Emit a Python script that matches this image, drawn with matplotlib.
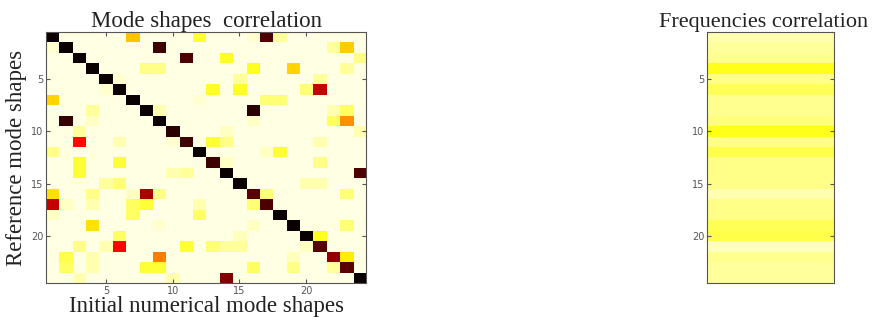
import numpy as np
import matplotlib.pyplot as plt

# MAC-like matrix: reference mode shapes (rows) vs initial numerical mode shapes (cols)
mode_corr = [
    [1.00,.03,.03,.03,.03,.03,.34,.03,.03,.03,.03,.20,.03,.03,.03,.05,.90,.10,.03,.03,.03,.03,.03,.03],
    [.05,1.00,.03,.03,.03,.03,.03,.03,.92,.03,.03,.03,.03,.03,.03,.03,.03,.03,.03,.03,.03,.10,.33,.03],
    [.03,.03,1.00,.03,.03,.03,.03,.03,.03,.03,.90,.03,.03,.22,.03,.03,.03,.03,.03,.03,.03,.03,.03,.12],
    [.03,.03,.03,1.00,.03,.03,.03,.12,.12,.03,.03,.03,.03,.03,.03,.22,.03,.03,.32,.03,.03,.03,.10,.03],
    [.03,.03,.03,.03,1.00,.05,.03,.03,.03,.03,.03,.03,.03,.03,.10,.03,.03,.03,.03,.03,.10,.03,.03,.03],
    [.03,.03,.03,.03,.05,1.00,.03,.03,.03,.03,.03,.03,.22,.03,.22,.03,.03,.03,.03,.14,.72,.03,.03,.03],
    [.32,.03,.03,.03,.03,.03,1.00,.03,.03,.03,.03,.05,.03,.03,.03,.03,.14,.14,.03,.03,.03,.03,.03,.03],
    [.03,.03,.03,.10,.03,.03,.03,1.00,.08,.03,.03,.03,.03,.03,.03,.95,.03,.03,.03,.03,.03,.08,.16,.03],
    [.03,.93,.03,.06,.03,.03,.03,.03,1.00,.03,.03,.03,.03,.03,.03,.06,.03,.03,.03,.03,.03,.16,.42,.03],
    [.03,.03,.10,.03,.03,.03,.03,.03,.03,.95,.03,.03,.03,.06,.03,.03,.03,.03,.03,.03,.03,.03,.03,.08],
    [.03,.03,.62,.03,.03,.08,.03,.03,.03,.05,.92,.03,.20,.12,.03,.03,.03,.03,.03,.03,.08,.03,.03,.03],
    [.12,.03,.03,.03,.03,.03,.03,.03,.03,.03,.03,1.00,.03,.03,.03,.03,.06,.20,.03,.03,.03,.03,.03,.03],
    [.03,.03,.20,.03,.03,.20,.03,.03,.03,.03,.03,.03,.92,.06,.03,.03,.03,.03,.03,.03,.12,.03,.03,.03],
    [.03,.03,.20,.03,.03,.03,.03,.03,.03,.08,.10,.03,.03,1.00,.03,.03,.03,.03,.03,.03,.03,.03,.03,.90],
    [.03,.03,.03,.03,.10,.14,.03,.03,.03,.03,.03,.03,.03,.03,1.00,.03,.03,.03,.03,.08,.08,.03,.03,.03],
    [.30,.03,.03,.12,.03,.03,.06,.76,.12,.03,.03,.03,.03,.03,.03,.88,.14,.03,.03,.03,.03,.03,.14,.03],
    [.72,.06,.03,.08,.03,.03,.16,.20,.03,.03,.03,.08,.03,.03,.03,.14,.90,.03,.03,.03,.03,.03,.03,.03],
    [.06,.03,.03,.03,.03,.03,.16,.03,.03,.03,.03,.16,.03,.03,.03,.03,.03,1.00,.03,.03,.03,.03,.03,.03],
    [.03,.03,.03,.30,.03,.03,.03,.03,.05,.03,.03,.03,.03,.03,.03,.06,.03,.03,1.00,.03,.03,.03,.14,.03],
    [.03,.03,.03,.03,.03,.16,.03,.03,.03,.03,.03,.03,.03,.03,.07,.03,.03,.03,.03,1.00,.22,.03,.03,.03],
    [.03,.03,.12,.03,.08,.63,.03,.03,.03,.03,.20,.03,.14,.10,.10,.03,.03,.03,.03,.06,.88,.03,.03,.03],
    [.03,.18,.03,.08,.03,.03,.03,.03,.45,.03,.03,.03,.03,.03,.03,.03,.03,.03,.07,.03,.03,.80,.28,.03],
    [.03,.16,.03,.08,.03,.03,.03,.20,.20,.03,.03,.03,.03,.03,.03,.16,.03,.03,.12,.03,.03,.10,.88,.03],
    [.03,.03,.08,.03,.03,.03,.03,.03,.03,.08,.03,.03,.03,.82,.03,.03,.03,.03,.03,.03,.03,.03,.03,1.00],
]

# frequency correlation, one value per mode
freq_corr = [.08, .10, .11, .23, .12, .17, .11, .11, .13, .23, .12, .18,
             .12, .12, .12, .08, .12, .12, .17, .18, .07, .11, .10, .10]

ticks = [5, 10, 15, 20]

plt.rcParams.update({
    'font.family': 'Liberation Serif',
    'axes.edgecolor': '#555555',
    'xtick.color': '#555555',
    'ytick.color': '#555555',
    'xtick.direction': 'in',
    'ytick.direction': 'in',
    'xtick.major.size': 3,
    'ytick.major.size': 3,
    'xtick.top': True,
    'ytick.right': True,
})

fig = plt.figure(figsize=(8.78, 3.22), dpi=100)
fig.patch.set_facecolor('white')

n = len(mode_corr)
ax1 = fig.add_axes([0.0524, 0.1211, 0.3645, 0.7795])
ax1.imshow(np.array(mode_corr), cmap='hot_r', vmin=0, vmax=1, aspect='auto',
           interpolation='nearest', extent=(0.5, n + 0.5, n + 0.5, 0.5))
ax1.set_xticks(ticks)
ax1.set_yticks(ticks)
ax1.tick_params(labelsize=7, labelcolor='#555555', pad=2)
for lab in ax1.get_xticklabels() + ax1.get_yticklabels():
    lab.set_family('DejaVu Sans')
ax1.set_title('Mode shapes  correlation', fontsize=16.5, color='#222222', pad=3)
ax1.set_xlabel('Initial numerical mode shapes', fontsize=16.5, color='#222222', labelpad=0)
ax1.set_ylabel('Reference mode shapes', fontsize=16.5, color='#222222', labelpad=3)

ax2 = fig.add_axes([0.8052, 0.1211, 0.1446, 0.7795])
ax2.imshow(np.array(freq_corr).reshape(-1, 1), cmap='hot_r', vmin=0, vmax=1, aspect='auto',
           interpolation='nearest', extent=(0.5, 1.5, n + 0.5, 0.5))
ax2.set_xticks([])
ax2.set_yticks(ticks)
ax2.tick_params(labelsize=7, labelcolor='#555555', pad=2)
for lab in ax2.get_yticklabels():
    lab.set_family('DejaVu Sans')
ax2.set_title('Frequencies correlation', fontsize=16, color='#222222', pad=3, x=0.445)

fig.savefig('out.png', dpi=100)
